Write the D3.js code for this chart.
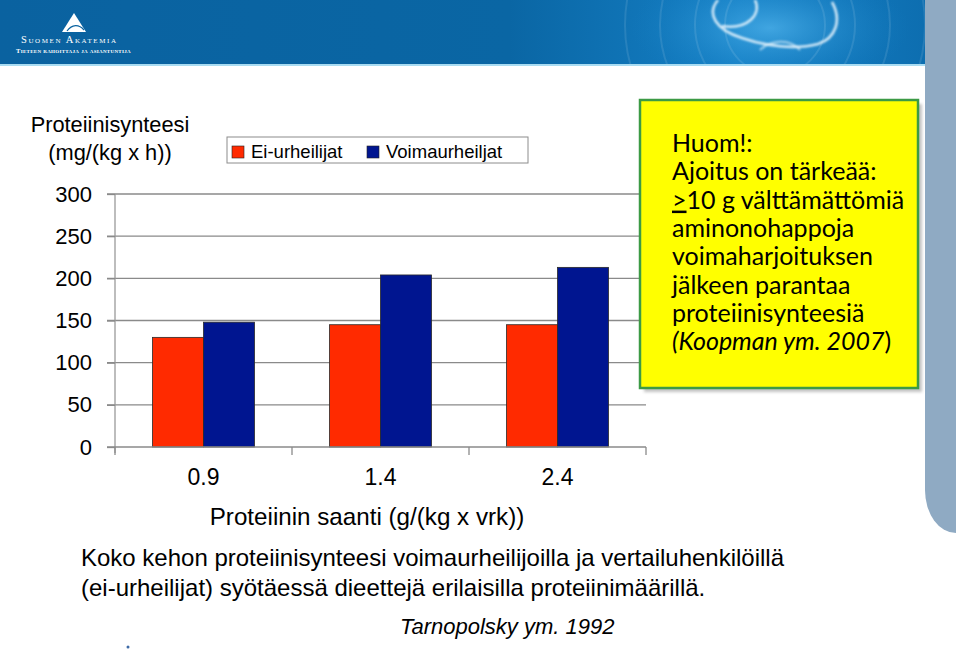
<!DOCTYPE html>
<html>
<head>
<meta charset="utf-8">
<script src="https://d3js.org/d3.v7.min.js"></script>
<style>
  body { margin: 0; background: #fff; }
  svg text { font-family: "Liberation Sans", Arial, sans-serif; fill: #000; }
</style>
</head>
<body>
<svg id="chart" width="960" height="661"></svg>
<script>
// data
var categories = ["0.9", "1.4", "2.4"];
var seriesNames = ["Ei-urheilijat", "Voimaurheiljat"];
var eiUrheilijat = [130, 145, 145];
var voimaurheilijat = [148, 204, 213];
var yTicks = [0, 50, 100, 150, 200, 250, 300];
var seriesColors = ["#ff2a00", "#001590"];
var noteLines = ["Huom!:", "Ajoitus on tärkeää:", "≥10 g välttämättömiä", "aminonohappoja",
                 "voimaharjoituksen", "jälkeen parantaa", "proteiinisynteesiä", "(Koopman ym. 2007)"];
var captionLines = ["Koko kehon proteiinisynteesi voimaurheilijoilla ja vertailuhenkilöillä",
                    "(ei-urheilijat) syötäessä dieettejä erilaisilla proteiinimäärillä."];

var svg = d3.select("#chart");
var defs = svg.append("defs");

// ---- header band ----
var hg = defs.append("linearGradient").attr("id", "hdr");
hg.append("stop").attr("offset", "0").attr("stop-color", "#0a62a0");
hg.append("stop").attr("offset", "0.55").attr("stop-color", "#0a66a4");
hg.append("stop").attr("offset", "0.8").attr("stop-color", "#1580c6");
hg.append("stop").attr("offset", "1").attr("stop-color", "#0d6eb0");
var rg = defs.append("radialGradient").attr("id", "glow");
rg.append("stop").attr("offset", "0").attr("stop-color", "#5ec0f5").attr("stop-opacity", 0.6);
rg.append("stop").attr("offset", "1").attr("stop-color", "#1683c8").attr("stop-opacity", 0);
defs.append("filter").attr("id", "soft").append("feGaussianBlur").attr("stdDeviation", 1.2);
defs.append("filter").attr("id", "shadowBlur").append("feGaussianBlur").attr("stdDeviation", 1.5);

svg.append("rect").attr("x", 0).attr("y", 0).attr("width", 925).attr("height", 64).attr("fill", "url(#hdr)");
svg.append("ellipse").attr("cx", 770).attr("cy", 28).attr("rx", 140).attr("ry", 60).attr("fill", "url(#glow)");
[50, 80, 115, 150].forEach(function (r) {
  svg.append("circle").attr("cx", 775).attr("cy", 25).attr("r", r)
    .attr("fill", "none").attr("stroke", "#ffffff").attr("stroke-opacity", 0.1).attr("stroke-width", 2);
});
svg.append("rect").attr("x", 0).attr("y", 64).attr("width", 925).attr("height", 410).attr("fill", "#fff");
var swirl = svg.append("g").attr("filter", "url(#soft)").attr("fill", "none").attr("stroke", "#eef8ff")
  .attr("stroke-opacity", 0.85).attr("stroke-width", 2.6);
swirl.append("path").attr("d", "M718,0 C706,14 716,30 742,38 C765,46 795,50 818,44 C836,38 842,20 832,2");
swirl.append("path").attr("d", "M755,0 C762,14 748,30 722,26");
swirl.append("path").attr("d", "M760,50 C770,40 790,38 800,50").attr("stroke-width", 2).attr("stroke-opacity", 0.6);
svg.append("rect").attr("x", 0).attr("y", 64).attr("width", 925).attr("height", 2).attr("fill", "#a9dcf2");

// logo
svg.append("path").attr("d", "M74,13 L86,32 L62,32 Z").attr("fill", "#fff");
svg.append("path").attr("d", "M67,31 C72,24 79,24 84,30").attr("fill", "none").attr("stroke", "#0a63a0").attr("stroke-width", 1.2);
svg.append("text").attr("x", 21).attr("y", 43)
  .style("font-family", "'Liberation Serif', serif").style("font-size", "10.5px")
  .style("font-variant", "small-caps").style("letter-spacing", "1.6px").style("fill", "#fff")
  .text("Suomen Akatemia");
svg.append("text").attr("x", 16).attr("y", 53)
  .style("font-family", "'Liberation Serif', serif").style("font-size", "6.5px").style("font-weight", "bold")
  .style("font-variant", "small-caps").style("letter-spacing", "0.3px").style("fill", "#fff")
  .text("Tieteen rahoittaja ja asiantuntija");

// right strip
svg.append("path").attr("d", "M925,0 H956 V533 A31,43 0 0 1 925,490 Z").attr("fill", "#8faac3");

// ---- chart ----
var x0 = d3.scaleBand().domain(categories).range([115, 646]).padding(0);
var x1 = d3.scaleBand().domain(seriesNames).range([0, x0.bandwidth()]).paddingInner(0).paddingOuter(0.735);
var y = d3.scaleLinear().domain([0, 300]).range([447, 194]);
var color = d3.scaleOrdinal().domain(seriesNames).range(seriesColors);

// gridlines
svg.append("g").selectAll("line").data(yTicks.slice(1)).join("line")
  .attr("x1", 107).attr("x2", 646).attr("y1", function (d) { return y(d); }).attr("y2", function (d) { return y(d); })
  .attr("stroke", "#8a8a8a").attr("stroke-width", 1.3);

// y axis
var yAxis = svg.append("g").attr("transform", "translate(115,0)")
  .call(d3.axisLeft(y).tickValues(yTicks).tickSize(8).tickPadding(15));
yAxis.select(".domain").attr("d", "M0,194 V453").attr("stroke", "#9a9a9a").attr("stroke-width", 1.3);
yAxis.selectAll(".tick line").attr("stroke", "#8a8a8a").attr("stroke-width", 1.3);
yAxis.selectAll(".tick text").style("font-size", "22px").style("font-family", "'Liberation Sans', Arial, sans-serif").attr("fill", "#000");

// bars
var rows = categories.map(function (c, i) {
  return { cat: c, values: [{ s: seriesNames[0], v: eiUrheilijat[i] }, { s: seriesNames[1], v: voimaurheilijat[i] }] };
});
svg.append("g").selectAll("g").data(rows).join("g")
  .attr("transform", function (d) { return "translate(" + x0(d.cat) + ",0)"; })
  .selectAll("rect").data(function (d) { return d.values; }).join("rect")
  .attr("x", function (d) { return x1(d.s); })
  .attr("width", x1.bandwidth())
  .attr("y", function (d) { return y(d.v); })
  .attr("height", function (d) { return y(0) - y(d.v); })
  .attr("fill", function (d) { return color(d.s); })
  .attr("stroke", "#2a2a2a").attr("stroke-width", 0.8);

// x axis
var xAxis = svg.append("g").attr("transform", "translate(0,447)")
  .call(d3.axisBottom(x0).tickSize(0).tickPadding(22));
xAxis.select(".domain").attr("d", "M107,0 H646").attr("stroke", "#8a8a8a").attr("stroke-width", 1.3);
xAxis.selectAll(".tick text").style("font-size", "23px").style("font-family", "'Liberation Sans', Arial, sans-serif").attr("fill", "#000");
var edges = categories.map(function (c) { return x0(c); }).concat([x0.range()[1]]);
xAxis.append("g").selectAll("line").data(edges).join("line")
  .attr("x1", function (d) { return d; }).attr("x2", function (d) { return d; })
  .attr("y1", 0).attr("y2", 8).attr("stroke", "#8a8a8a").attr("stroke-width", 1.3);

// axis titles
svg.append("text").attr("x", 367).attr("y", 525).attr("text-anchor", "middle").style("font-size", "24.2px")
  .text("Proteiinin saanti (g/(kg x vrk))");
svg.append("text").attr("x", 110).attr("y", 132).attr("text-anchor", "middle").style("font-size", "21.8px")
  .text("Proteiinisynteesi");
svg.append("text").attr("x", 110).attr("y", 160).attr("text-anchor", "middle").style("font-size", "21.8px")
  .text("(mg/(kg x h))");

// legend
var lg = svg.append("g");
lg.append("rect").attr("x", 227).attr("y", 137).attr("width", 301).attr("height", 26)
  .attr("fill", "#fff").attr("stroke", "#8c8c8c").attr("stroke-width", 1);
var legendX = [232, 367];
seriesNames.forEach(function (s, i) {
  lg.append("rect").attr("x", legendX[i]).attr("y", 146).attr("width", 12).attr("height", 12)
    .attr("fill", color(s)).attr("stroke", "#222").attr("stroke-width", 0.6);
  lg.append("text").attr("x", legendX[i] + 19).attr("y", 158).style("font-size", "18.5px").text(s);
});

// note box
svg.append("rect").attr("x", 644).attr("y", 104).attr("width", 278).attr("height", 288)
  .attr("fill", "#888").attr("opacity", 0.5).attr("filter", "url(#shadowBlur)");
svg.append("rect").attr("x", 640).attr("y", 100).attr("width", 278).attr("height", 288)
  .attr("fill", "#ffff00").attr("stroke", "#3c9a45").attr("stroke-width", 2.5);
var note = svg.append("g");
noteLines.forEach(function (line, i) {
  var t = note.append("text").attr("x", 672).attr("y", 152 + i * 28.3).attr("fill", "#1a1a1a")
    .style("font-family", "Lato, 'Open Sans', sans-serif").style("font-size", "25px");
  if (line.charAt(0) === "≥") {
    t.append("tspan").style("text-decoration", "underline").text(">");
    t.append("tspan").text(line.slice(1));
  } else if (line.charAt(0) === "(") {
    t.append("tspan").style("font-style", "italic").text(line.slice(0, -1));
    t.append("tspan").text(")");
  } else {
    t.text(line);
  }
});

// caption
captionLines.forEach(function (line, i) {
  svg.append("text").attr("x", 81).attr("y", 566 + i * 29.5).style("font-size", "24px").text(line);
});
svg.append("text").attr("x", 400).attr("y", 634).style("font-size", "22px").style("font-style", "italic")
  .text("Tarnopolsky ym. 1992");
svg.append("circle").attr("cx", 128).attr("cy", 647).attr("r", 1.5).attr("fill", "#3d6aa6");
</script>
</body>
</html>
